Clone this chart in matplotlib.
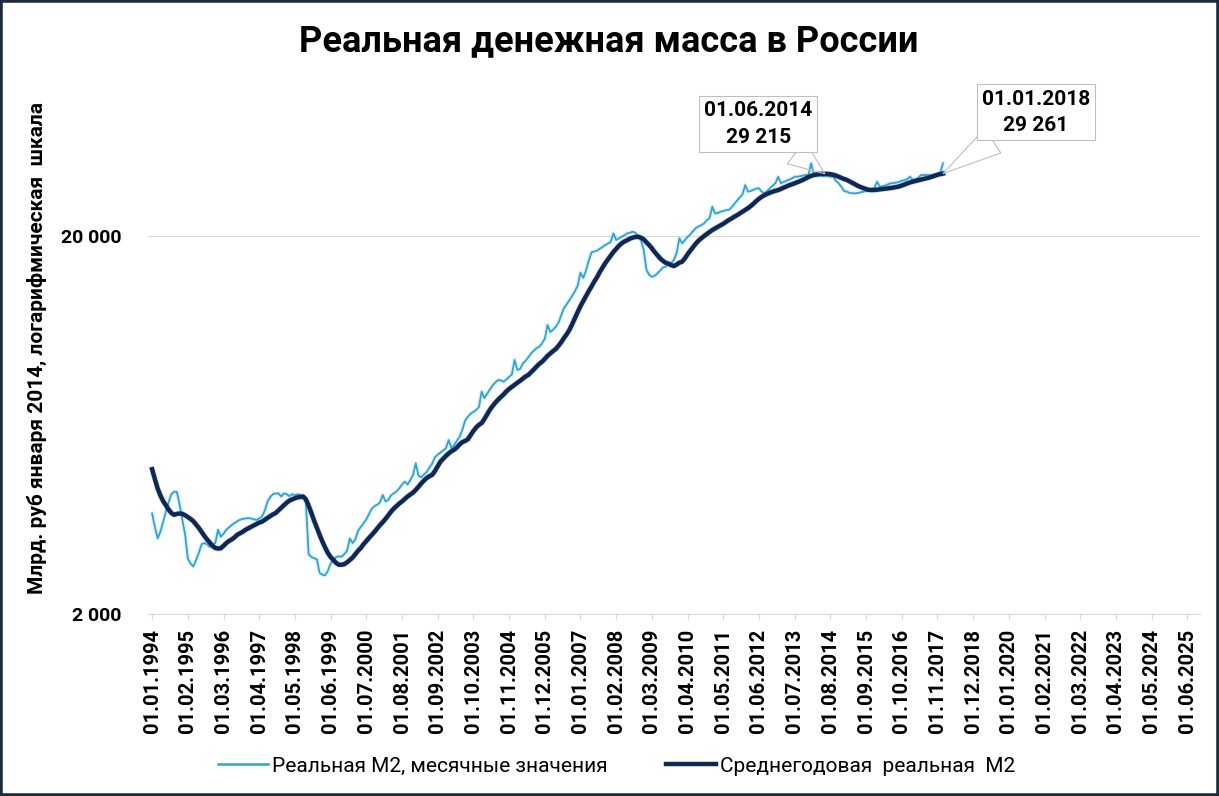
import numpy as np
import pandas as pd
import matplotlib
matplotlib.use('Agg')
import matplotlib.pyplot as plt
import matplotlib.patheffects as pe
from matplotlib.lines import Line2D
from matplotlib.patches import Rectangle
from matplotlib.ticker import NullLocator

plt.rcParams['font.family'] = ['Roboto', 'DejaVu Sans']

# real M2, bln rub of Jan 2014, monthly, from 01.01.1994 to 01.01.2018
m2_monthly = [
    3690, 3400, 3170, 3300, 3500, 3730, 3950, 4150, 4210, 4210, 3900, 3550,  # 1994
    3250, 2800, 2720, 2670, 2780, 2900, 3060, 3080, 3060, 3010, 3050, 3080,  # 1995
    3340, 3200, 3260, 3340, 3390, 3440, 3480, 3520, 3550, 3570, 3580, 3585,  # 1996
    3580, 3560, 3550, 3580, 3620, 3750, 3960, 4080, 4150, 4170, 4170, 4090,  # 1997
    4170, 4150, 4100, 4150, 4120, 4150, 4130, 4100, 3950, 2880, 2830, 2810,  # 1998
    2790, 2570, 2540, 2530, 2600, 2720, 2780, 2830, 2840, 2835, 2880, 2940,  # 1999
    3170, 3080, 3150, 3320, 3400, 3480, 3560, 3680, 3800, 3860, 3890, 3950,  # 2000
    4130, 3970, 4010, 4120, 4170, 4220, 4300, 4400, 4480, 4400, 4520, 4660,  # 2001
    5010, 4650, 4600, 4680, 4750, 4880, 5000, 5200, 5280, 5350, 5420, 5490,  # 2002
    5770, 5490, 5600, 5750, 5890, 6150, 6500, 6650, 6780, 6850, 6930, 7050,  # 2003
    7750, 7450, 7650, 7850, 8050, 8200, 8320, 8300, 8230, 8350, 8480, 8600,  # 2004
    9400, 8850, 8900, 9200, 9350, 9550, 9780, 9950, 10100, 10190, 10400, 10700,  # 2005
    11630, 11150, 11300, 11500, 11800, 12350, 12900, 13200, 13550, 13900, 14300, 14800,  # 2006
    16000, 15500, 16200, 17200, 18100, 18200, 18300, 18500, 18700, 18930, 19100, 19300,  # 2007
    20330, 19520, 19700, 19910, 20100, 20330, 20400, 20530, 20400, 19910, 19500, 18400,  # 2008
    16300, 15800, 15600, 15700, 15930, 16200, 16500, 16600, 16800, 16940, 17300, 18000,  # 2009
    19720, 19130, 19500, 19900, 20200, 20600, 21000, 21200, 21380, 21600, 22000, 22300,  # 2010
    23900, 22960, 23000, 23200, 23300, 23400, 23440, 23800, 24300, 24800, 25300, 25800,  # 2011
    27280, 26200, 26300, 26500, 26700, 26740, 26200, 25940, 26300, 26800, 27200, 27600,  # 2012
    28700, 27580, 27800, 28000, 28200, 28400, 28700, 28700, 28800, 28900, 29000, 29000,  # 2013
    31140, 29000, 28900, 28900, 28800, 28800, 28800, 28700, 28700, 28000, 27580, 27000,  # 2014
    26300, 26200, 26000, 25950, 25940, 26000, 26100, 26200, 26300, 26400, 26600, 26800,  # 2015
    27840, 27000, 27100, 27200, 27400, 27580, 27600, 27700, 27800, 28000, 28100, 28300,  # 2016
    28700, 28140, 28300, 28500, 29000, 29000, 29000, 29000, 29000, 29100, 29200, 29300,  # 2017
    31140,  # 2018
]

# average annual real M2
m2_avg = [
    4830, 4550, 4300, 4120, 3980, 3880, 3780, 3700, 3660, 3680, 3690, 3680,  # 1994
    3650, 3610, 3570, 3520, 3450, 3380, 3300, 3220, 3150, 3090, 3030, 2990,  # 1995
    2980, 2985, 3030, 3080, 3120, 3150, 3190, 3240, 3270, 3300, 3340, 3370,  # 1996
    3400, 3430, 3460, 3490, 3510, 3550, 3590, 3630, 3670, 3700, 3760, 3820,  # 1997
    3880, 3940, 3990, 4020, 4050, 4070, 4080, 4090, 4020, 3870, 3700, 3530,  # 1998
    3380, 3240, 3110, 3000, 2900, 2830, 2780, 2730, 2700, 2700, 2710, 2740,  # 1999
    2780, 2820, 2880, 2940, 2990, 3060, 3120, 3180, 3240, 3300, 3370, 3440,  # 2000
    3500, 3570, 3650, 3730, 3800, 3860, 3920, 3970, 4030, 4090, 4140, 4190,  # 2001
    4260, 4340, 4430, 4510, 4580, 4630, 4670, 4780, 4920, 5060, 5150, 5240,  # 2002
    5320, 5390, 5440, 5520, 5620, 5700, 5740, 5800, 5950, 6100, 6230, 6330,  # 2003
    6400, 6560, 6750, 6940, 7100, 7250, 7380, 7500, 7620, 7760, 7880, 7980,  # 2004
    8080, 8180, 8280, 8390, 8500, 8580, 8720, 8870, 9030, 9180, 9300, 9460,  # 2005
    9640, 9780, 9920, 10050, 10250, 10480, 10750, 11000, 11300, 11700, 12150, 12600,  # 2006
    13050, 13450, 13850, 14300, 14700, 15150, 15550, 16050, 16500, 16950, 17350, 17750,  # 2007
    18150, 18500, 18850, 19130, 19350, 19500, 19680, 19800, 19880, 19910, 19800, 19600,  # 2008
    19250, 18930, 18550, 18150, 17800, 17450, 17200, 17000, 16900, 16750, 16660, 16800,  # 2009
    17000, 17100, 17450, 17900, 18300, 18700, 19100, 19450, 19720, 20000, 20250, 20500,  # 2010
    20740, 20950, 21150, 21350, 21550, 21800, 22050, 22250, 22500, 22700, 22950, 23200,  # 2011
    23450, 23700, 24000, 24350, 24750, 25100, 25400, 25650, 25850, 26050, 26200, 26350,  # 2012
    26460, 26650, 26850, 27050, 27250, 27400, 27580, 27750, 27950, 28150, 28400, 28650,  # 2013
    28850, 29000, 29100, 29180, 29210, 29215, 29200, 29150, 29050, 28900, 28700, 28500,  # 2014
    28300, 28150, 27900, 27650, 27400, 27150, 26950, 26780, 26620, 26500, 26460, 26480,  # 2015
    26520, 26580, 26630, 26680, 26740, 26800, 26870, 26950, 27050, 27200, 27380, 27580,  # 2016
    27730, 27850, 27960, 28080, 28200, 28320, 28430, 28550, 28700, 28880, 29050, 29160,  # 2017
    29261,  # 2018
]

dates = pd.date_range('1994-01-01', periods=len(m2_monthly), freq='MS')
tick_dates = pd.date_range('1994-01-01', '2025-06-01', freq='13MS')
callout_dates = ['2014-06-01', '2018-01-01']

title = 'Реальная денежная масса в России'
ylabel = 'Млрд. руб января 2014, логарифмическая  шкала'
label_monthly = 'Реальная М2, месячные значения'
label_avg = 'Среднегодовая  реальная  М2'

light = '#2ea3d6'
dark = '#0e2757'
grey = '#d9d9d9'


def month_index(d):
    d = pd.Timestamp(d)
    return (d.year - 1994) * 12 + d.month - 1


x = np.array([month_index(d) for d in dates])
tick_x = [month_index(d) for d in tick_dates]

fig = plt.figure(figsize=(12.19, 7.96), dpi=100)
ax = fig.add_axes([148 / 1219, 182 / 796, 1052 / 1219, 528.4 / 796])

ax.plot(x, m2_monthly, color=light, lw=1.3, zorder=2,
        path_effects=[pe.Stroke(linewidth=3.2, foreground='#a9dcf0', alpha=0.35), pe.Normal()])
ax.plot(x, m2_avg, color=dark, lw=3.2, zorder=3,
        path_effects=[pe.Stroke(linewidth=4.4, foreground='#7f8fa8', alpha=0.25), pe.Normal()])

ax.set_yscale('log')
ax.set_ylim(2000, 50000)
ax.set_yticks([2000, 20000])
ax.set_yticklabels(['2 000', '20 000'], fontsize=14, fontweight='bold')
ax.yaxis.set_minor_locator(NullLocator())
ax.tick_params(axis='y', length=0, pad=19)
ax.grid(axis='y', color=grey, lw=0.8)

ax.set_xlim(-1.5, 381.6)
ax.set_xticks(tick_x)
ax.set_xticklabels([d.strftime('%d.%m.%Y') for d in tick_dates], rotation=90,
                   fontsize=14.5, fontweight='bold')
ax.tick_params(axis='x', length=4.5, color=grey, pad=6)

for s in ['top', 'right', 'left']:
    ax.spines[s].set_visible(False)
ax.spines['bottom'].set_color(grey)

fig.text(0.4996, 1 - 51 / 796, title, ha='center', va='baseline',
         fontsize=26, fontweight='bold')
fig.text(37 / 1219, 1 - 348 / 796, ylabel, rotation=90, ha='center', va='center',
         fontsize=15, fontweight='bold')

offsets = [(-48, 36), (67, 44)]
for d, off in zip(callout_dates, offsets):
    i = month_index(d)
    v = m2_avg[i]
    txt = pd.Timestamp(d).strftime('%d.%m.%Y') + '\n' + f'{v:,.0f}'.replace(',', ' ')
    ax.annotate(txt, xy=(i, v), xytext=off, textcoords='offset points',
                ha='center', va='center', fontsize=15, fontweight='bold', linespacing=1.5,
                bbox=dict(boxstyle='square,pad=0.25', fc='white', ec='#bfbfbf', lw=0.8),
                arrowprops=dict(arrowstyle='wedge,tail_width=1.4', fc='none', ec='#bfbfbf',
                                lw=0.8, shrinkA=0, shrinkB=0),
                zorder=5)

handles = [Line2D([], [], color=light, lw=1.8), Line2D([], [], color=dark, lw=3.2)]
fig.legend(handles, [label_monthly, label_avg], loc='center', ncol=2,
           bbox_to_anchor=(0.506, 1 - 766 / 796), frameon=False, fontsize=15,
           handlelength=2.4, handletextpad=0.2, columnspacing=2.8)

fig.patches.append(Rectangle((0, 0), 1, 1, transform=fig.transFigure, fill=False,
                             ec='#1c2b3a', lw=4))

fig.savefig('out.png', dpi=100, facecolor='white')
